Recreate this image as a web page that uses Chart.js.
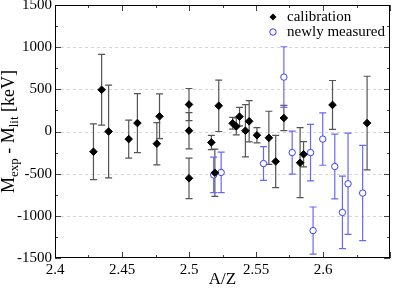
<!DOCTYPE html>
<html>
<head>
<meta charset="utf-8">
<script src="https://cdn.jsdelivr.net/npm/chart.js@4.4.1/dist/chart.umd.min.js"></script>
<style>
  body { margin: 0; background: #fff; }
  canvas { display: block; }
</style>
</head>
<body>
<canvas id="massChart" width="395" height="290"></canvas>
<script>
// --------- DATA ---------------------------------
const calX   = [2.4287, 2.4348, 2.4400, 2.4550, 2.4615, 2.4760, 2.4780, 2.5000, 2.5000, 2.5000,
                2.5167, 2.5193, 2.5222, 2.5326, 2.5353, 2.5377, 2.5421, 2.5449, 2.5507, 2.5596,
                2.5647, 2.5708, 2.5829, 2.5855, 2.6071, 2.6329];
const calY   = [-240, 495, 0, -90, 100, -145, 180, 320, 10, -555,
                -130, -490, 305, 97, 60, 176, 9, 121, -45, -75,
                -355, 160, -370, -270, 315, 100];
const calErr = [330, 420, 550, 225, 350, 250, 265, 190, 215, 240,
                85, 280, 305, 70, 100, 110, 310, 245, 90, 315,
                310, 150, 415, 150, 290, 555];

const newX   = [2.5184, 2.5240, 2.5556, 2.5708, 2.5770, 2.5907, 2.5926, 2.5998, 2.6088, 2.6145, 2.6187, 2.6296];
const newY   = [-515, -485, -380, 645, -250, -250, -1175, -90, -415, -960, -620, -730];
const newErr = [210, 240, 200, 360, 255, 335, 280, 310, 385, 430, 600, 565];

const xMin = 2.4, xMax = 2.65, xStep = 0.05;
const yMin = -1500, yMax = 1500, yStep = 500;

const serif = '"Liberation Serif", "DejaVu Serif", serif';
const blue = '#3c3cff';

// ---------- frame, inside ticks, error bars, titles, legend ----------
function errorBars(chart, xs, ys, errs, color) {
    const { ctx, scales: { x, y } } = chart;
    ctx.save();
    ctx.strokeStyle = color;
    ctx.lineWidth = 1.2;
    xs.forEach((xv, i) => {
        const px = x.getPixelForValue(xv);
        const top = y.getPixelForValue(ys[i] + errs[i]);
        const bot = y.getPixelForValue(ys[i] - errs[i]);
        ctx.beginPath();
        ctx.moveTo(px, top); ctx.lineTo(px, bot);
        ctx.moveTo(px - 3.5, top); ctx.lineTo(px + 3.5, top);
        ctx.moveTo(px - 3.5, bot); ctx.lineTo(px + 3.5, bot);
        ctx.stroke();
    });
    ctx.restore();
}

const decorations = {
    id: 'decorations',
    beforeDatasetsDraw(chart) {
        const { ctx, chartArea: a, scales: { y } } = chart;
        ctx.save();
        ctx.strokeStyle = '#d6d6d6';
        ctx.lineWidth = 1;
        ctx.setLineDash([3, 3]);
        for (let v = yMin + yStep; v < yMax; v += yStep) {
            const py = Math.round(y.getPixelForValue(v)) + 0.5;
            ctx.beginPath(); ctx.moveTo(a.left, py); ctx.lineTo(a.right, py); ctx.stroke();
        }
        ctx.restore();
        errorBars(chart, calX, calY, calErr, '#555');
        errorBars(chart, newX, newY, newErr, '#6868ff');
    },
    afterDraw(chart) {
        const { ctx, chartArea: a, scales: { x, y } } = chart;
        ctx.save();
        // inside ticks on all four sides
        ctx.strokeStyle = '#444';
        ctx.lineWidth = 1;
        ctx.beginPath();
        for (let i = 0; i <= Math.round((xMax - xMin) / (xStep / 2)); i++) {
            const px = Math.round(x.getPixelForValue(xMin + i * xStep / 2)) + 0.5;
            const len = i % 2 === 0 ? 6 : 3;
            ctx.moveTo(px, a.bottom); ctx.lineTo(px, a.bottom - len);
            ctx.moveTo(px, a.top); ctx.lineTo(px, a.top + len);
        }
        for (let i = 0; i <= Math.round((yMax - yMin) / (yStep / 2)); i++) {
            const py = Math.round(y.getPixelForValue(yMin + i * yStep / 2)) + 0.5;
            const len = i % 2 === 0 ? 6 : 3;
            ctx.moveTo(a.left, py); ctx.lineTo(a.left + len, py);
            ctx.moveTo(a.right, py); ctx.lineTo(a.right - len, py);
        }
        ctx.stroke();
        // frame
        ctx.strokeStyle = '#000';
        ctx.strokeRect(a.left + 0.5, a.top + 0.5, a.right - a.left - 1, a.bottom - a.top - 1);

        // x title
        ctx.fillStyle = '#000';
        ctx.font = '17px ' + serif;
        ctx.textAlign = 'center';
        ctx.textBaseline = 'alphabetic';
        ctx.fillText('A/Z', (a.left + a.right) / 2, 284);

        // y title with subscripts
        const parts = [['M', 0], ['exp', 1], [' - M', 0], ['lit', 1], [' [keV]', 0]];
        const big = '18px ' + serif, small = '13px ' + serif;
        let total = 0;
        parts.forEach(p => { ctx.font = p[1] ? small : big; total += ctx.measureText(p[0]).width; });
        ctx.translate(14, (a.top + a.bottom) / 2);
        ctx.rotate(-Math.PI / 2);
        ctx.textAlign = 'left';
        let cx = -total / 2;
        parts.forEach(p => {
            ctx.font = p[1] ? small : big;
            ctx.fillText(p[0], cx, p[1] ? 4 : 0);
            cx += ctx.measureText(p[0]).width;
        });
        ctx.restore();

        // legend inside the plot, top right
        ctx.save();
        ctx.font = '15px ' + serif;
        ctx.textBaseline = 'middle';
        ctx.fillStyle = '#000';
        const ds = chart.data.datasets;
        // diamond
        ctx.beginPath();
        ctx.moveTo(273, 13.5); ctx.lineTo(276.5, 17); ctx.lineTo(273, 20.5); ctx.lineTo(269.5, 17);
        ctx.closePath(); ctx.fill();
        ctx.fillText(ds[0].label, 287, 17);
        // open circle
        ctx.beginPath();
        ctx.arc(273, 32, 3.2, 0, Math.PI * 2);
        ctx.fillStyle = '#fff'; ctx.fill();
        ctx.strokeStyle = blue; ctx.lineWidth = 1; ctx.stroke();
        ctx.fillStyle = '#000';
        ctx.fillText(ds[1].label, 287, 32);
        ctx.restore();
    }
};

const ctx = document.getElementById('massChart').getContext('2d');

let massChart = new Chart(ctx, {
    type: 'scatter',
    data: {
        datasets: [{
            label: 'calibration',
            data: calX.map((v, i) => ({ x: v, y: calY[i] })),
            pointStyle: 'rectRot',
            pointRadius: 3.8,
            backgroundColor: '#000',
            borderColor: '#000',
            borderWidth: 1
        }, {
            label: 'newly measured',
            data: newX.map((v, i) => ({ x: v, y: newY[i] })),
            pointStyle: 'circle',
            pointRadius: 3.2,
            backgroundColor: '#fff',
            borderColor: blue,
            borderWidth: 1
        }]
    },
    options: {
        responsive: false,
        animation: false,
        devicePixelRatio: 1,
        layout: { padding: { top: 5, right: 1, left: 0, bottom: 0 } },
        plugins: { legend: { display: false }, tooltip: { enabled: false } },
        scales: {
            x: {
                type: 'linear',
                min: xMin, max: xMax,
                grid: { display: false, drawTicks: false },
                border: { display: false },
                ticks: {
                    stepSize: xStep,
                    color: '#000',
                    padding: 3,
                    maxRotation: 0,
                    font: { family: serif, size: 15 },
                    callback: v => (Math.abs(v - xMax) < 1e-6 ? '' : String(Math.round(v * 100) / 100))
                },
                afterFit: s => { s.height = 32; s.paddingLeft = 0; s.paddingRight = 0; }
            },
            y: {
                min: yMin, max: yMax,
                grid: { display: false, drawTicks: false },
                border: { display: false },
                ticks: {
                    stepSize: yStep,
                    color: '#000',
                    padding: 3,
                    font: { family: serif, size: 15 },
                    callback: v => String(v)
                },
                afterFit: s => { s.width = 55; s.paddingTop = 0; s.paddingBottom = 0; }
            }
        }
    },
    plugins: [decorations]
});
</script>
</body>
</html>
